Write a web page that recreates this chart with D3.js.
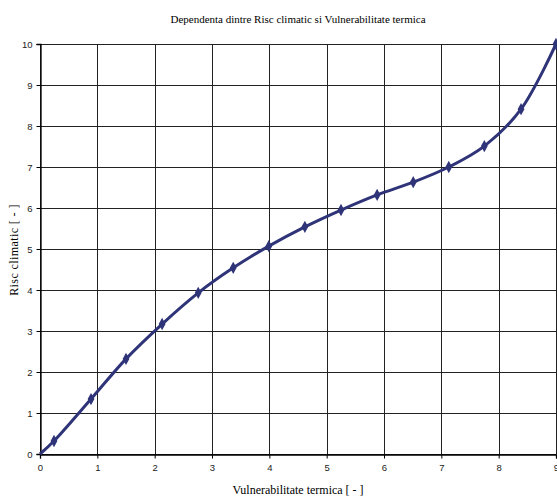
<!DOCTYPE html>
<html>
<head>
<meta charset="utf-8">
<script src="https://cdn.jsdelivr.net/npm/d3@7"></script>
<style>
  body { margin: 0; background: #fff; }
  svg { display: block; }
</style>
</head>
<body>
<div class="chart"></div>
<script>
// data
var vulnerabilitate = [0, 0.244, 0.89, 1.50, 2.13, 2.76, 3.37, 3.99, 4.62, 5.25, 5.88, 6.51, 7.13, 7.75, 8.39, 9.0];
var risc = [0, 0.317, 1.34, 2.32, 3.17, 3.93, 4.54, 5.07, 5.54, 5.95, 6.32, 6.63, 7.0, 7.51, 8.41, 10.0];
var xTicks = [0, 1, 2, 3, 4, 5, 6, 7, 8, 9];
var yTicks = [0, 1, 2, 3, 4, 5, 6, 7, 8, 9, 10];

var width = 557, height = 497;
var margin = {top: 44, right: 1, bottom: 43, left: 40};

var svg = d3.select(".chart")
  .append("svg")
  .attr("width", width)
  .attr("height", height);

var x = d3.scaleLinear().domain([0, 9]).range([margin.left, width - margin.right]);
var y = d3.scaleLinear().domain([0, 10]).range([height - margin.bottom, margin.top]);

// grid
svg.append("g")
  .selectAll("line.v")
  .data(xTicks)
  .enter().append("line")
  .attr("x1", function(d) { return Math.round(x(d)) + 0.5; })
  .attr("x2", function(d) { return Math.round(x(d)) + 0.5; })
  .attr("y1", y(10))
  .attr("y2", y(0))
  .attr("stroke", "#222")
  .attr("stroke-width", 1);

svg.append("g")
  .selectAll("line.h")
  .data(yTicks)
  .enter().append("line")
  .attr("x1", x(0))
  .attr("x2", x(9))
  .attr("y1", function(d) { return Math.round(y(d)) + 0.5; })
  .attr("y2", function(d) { return Math.round(y(d)) + 0.5; })
  .attr("stroke", "#222")
  .attr("stroke-width", 1);

// axes
var xAxis = svg.append("g")
  .attr("transform", "translate(0," + (Math.round(y(0)) + 0.5) + ")")
  .call(d3.axisBottom(x).tickValues(xTicks).tickSize(4).tickPadding(6).tickFormat(d3.format("d")));

var yAxis = svg.append("g")
  .attr("transform", "translate(" + (Math.round(x(0)) + 0.5) + ",0)")
  .call(d3.axisLeft(y).tickValues(yTicks).tickSize(4).tickPadding(4).tickFormat(d3.format("d")));

[xAxis, yAxis].forEach(function(a) {
  a.select(".domain").attr("stroke", "#000").attr("stroke-width", 1.3);
  a.selectAll(".tick line").attr("stroke", "#000");
  a.selectAll(".tick text")
    .attr("font-family", "Liberation Sans, Arial, sans-serif")
    .attr("font-size", "9.5px")
    .attr("fill", "#222");
});

// curve
var pts = vulnerabilitate.map(function(v, i) { return [v, risc[i]]; });

var line = d3.line()
  .x(function(d) { return x(d[0]); })
  .y(function(d) { return y(d[1]); })
  .curve(d3.curveCatmullRom.alpha(0.5));

svg.append("path")
  .datum(pts)
  .attr("d", line)
  .attr("fill", "none")
  .attr("stroke", "#2f3479")
  .attr("stroke-width", 3)
  .attr("stroke-linejoin", "round");

svg.append("g")
  .selectAll("path")
  .data(pts.filter(function(d, i) { return i > 0; }))
  .enter().append("path")
  .attr("transform", function(d) { return "translate(" + x(d[0]) + "," + y(d[1]) + ") scale(1,1.05)"; })
  .attr("d", d3.symbol().type(d3.symbolDiamond).size(40))
  .attr("fill", "#2f3479");

// texts
svg.append("text")
  .attr("x", 298)
  .attr("y", 23)
  .attr("text-anchor", "middle")
  .attr("font-family", "Liberation Serif, Times New Roman, serif")
  .attr("font-size", "11px")
  .attr("fill", "#000")
  .text("Dependenta dintre Risc climatic si Vulnerabilitate termica");

svg.append("text")
  .attr("x", 298)
  .attr("y", 494)
  .attr("text-anchor", "middle")
  .attr("font-family", "Liberation Serif, Times New Roman, serif")
  .attr("font-size", "12px")
  .attr("fill", "#000")
  .text("Vulnerabilitate termica [ - ]");

svg.append("text")
  .attr("transform", "translate(18,250) rotate(-90)")
  .attr("text-anchor", "middle")
  .attr("font-family", "Liberation Serif, Times New Roman, serif")
  .attr("font-size", "12px")
  .attr("letter-spacing", "0.4px")
  .attr("fill", "#000")
  .text("Risc climatic [ - ]");
</script>
</body>
</html>
